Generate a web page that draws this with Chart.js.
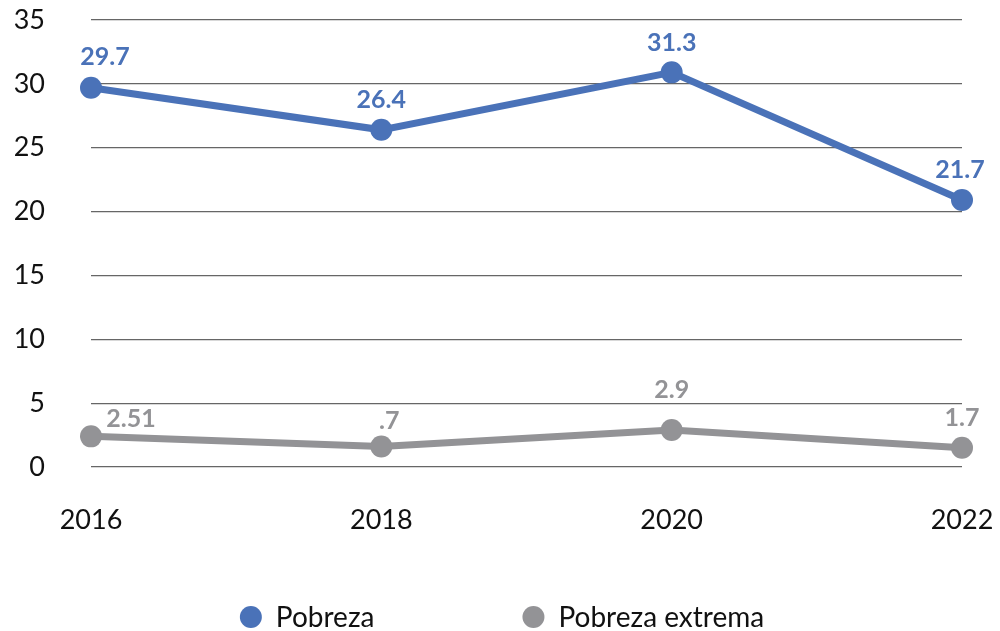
<!DOCTYPE html>
<html>
<head>
<meta charset="utf-8">
<script src="https://cdn.jsdelivr.net/npm/chart.js@4/dist/chart.umd.min.js"></script>
<style>
  html, body { margin: 0; padding: 0; background: #fff; }
  #wrap { width: 1000px; height: 631px; }
</style>
</head>
<body>
<div id="wrap"><canvas id="povertyChart" width="1000" height="631"></canvas></div>
<script>
const years = ['2016', '2018', '2020', '2022'];
const pobreza = [29.7, 26.4, 30.9, 20.9];
const pobrezaLabels = ['29.7', '26.4', '31.3', '21.7'];
const extrema = [2.4, 1.6, 2.9, 1.5];
const extremaLabels = ['2.51', '.7', '2.9', '1.7'];
const yTicks = [0, 5, 10, 15, 20, 25, 30, 35];

const blue = '#4a72b8';
const grey = '#939396';
const fontName = 'Lato';

// label nudges (dx, dy from point centre) roughly as in the original
const labelShift = [
    [[14, -31], [0, -30], [0, -29], [-2, -30]],
    [[40, -17], [8, -26], [0, -40], [0, -30]]
];

const valueLabels = {
    id: 'valueLabels',
    afterDatasetsDraw(chart) {
        const c = chart.ctx;
        const texts = [pobrezaLabels, extremaLabels];
        chart.data.datasets.forEach((ds, i) => {
            const meta = chart.getDatasetMeta(i);
            c.save();
            c.font = 'bold 25px ' + fontName;
            c.fillStyle = ds.borderColor;
            c.textAlign = 'center';
            c.textBaseline = 'middle';
            meta.data.forEach((pt, j) => {
                const s = labelShift[i][j];
                c.fillText(texts[i][j], pt.x + s[0], pt.y + s[1]);
            });
            c.restore();
        });
    }
};

// bottom legend with wide spacing between the two entries
const wideLegend = {
    id: 'wideLegend',
    afterDraw(chart) {
        const c = chart.ctx;
        const r = 11, gapText = 14, gapItem = 148, y = 617;
        c.save();
        c.font = '28px ' + fontName;
        c.textBaseline = 'middle';
        const items = chart.data.datasets.map(ds => ({
            text: ds.label, color: ds.borderColor, w: 2 * r + gapText + c.measureText(ds.label).width
        }));
        const total = items.reduce((a, it) => a + it.w, 0) + gapItem * (items.length - 1);
        let x = chart.width / 2 - total / 2 + 2;
        items.forEach(it => {
            c.fillStyle = it.color;
            c.beginPath();
            c.arc(x + r, y, r, 0, Math.PI * 2);
            c.fill();
            c.fillStyle = '#111';
            c.textAlign = 'left';
            c.fillText(it.text, x + 2 * r + gapText, y + 1);
            x += it.w + gapItem;
        });
        c.restore();
    }
};

const ctx = document.getElementById('povertyChart').getContext('2d');
const povertyChart = new Chart(ctx, {
    type: 'line',
    data: {
        labels: years,
        datasets: [{
            label: 'Pobreza',
            data: pobreza,
            borderColor: blue,
            backgroundColor: blue,
            borderWidth: 7,
            pointRadius: 11,
            pointHoverRadius: 11,
            pointBorderWidth: 0,
            tension: 0
        }, {
            label: 'Pobreza extrema',
            data: extrema,
            borderColor: grey,
            backgroundColor: grey,
            borderWidth: 7,
            pointRadius: 11,
            pointHoverRadius: 11,
            pointBorderWidth: 0,
            tension: 0
        }]
    },
    options: {
        responsive: false,
        animation: false,
        layout: {
            padding: { top: 20, right: 38, left: 0, bottom: 94 }
        },
        scales: {
            y: {
                min: 0,
                max: 35,
                afterBuildTicks: axis => { axis.ticks = yTicks.map(v => ({ value: v })); },
                afterFit: axis => {
                    axis.width = 91;
                    axis.paddingTop = 0;
                    axis.paddingBottom = 0;
                },
                ticks: {
                    padding: 46,
                    color: '#111',
                    font: { family: fontName, size: 27 }
                },
                grid: { color: '#666', lineWidth: 1.2, drawTicks: false },
                border: { display: false }
            },
            x: {
                offset: false,
                afterFit: axis => {
                    axis.height = 70;
                    axis.paddingLeft = 0;
                    axis.paddingRight = 0;
                },
                ticks: {
                    padding: 29,
                    color: '#111',
                    maxRotation: 0,
                    font: { family: fontName, size: 27 }
                },
                grid: { display: false },
                border: { display: false }
            }
        },
        plugins: {
            legend: { display: false },
            tooltip: { enabled: false }
        }
    },
    plugins: [valueLabels, wideLegend]
});
</script>
</body>
</html>
